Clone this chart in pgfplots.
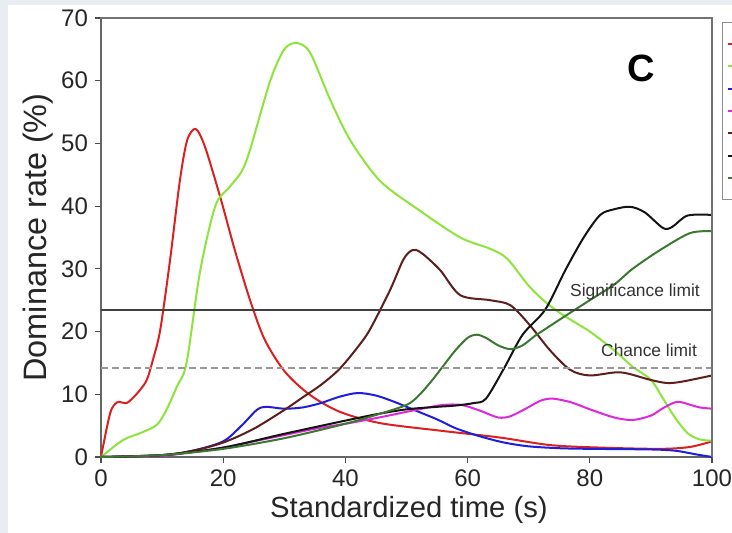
\documentclass[border=0pt]{standalone}
\usepackage{fontspec}
\setmainfont{Liberation Sans}
\usepackage{pgfplots}
\pgfplotsset{compat=1.18}

\definecolor{bggray}{RGB}{233,237,241}
\definecolor{cRed}{RGB}{220,32,32}
\definecolor{cLight}{RGB}{140,228,60}
\definecolor{cBlue}{RGB}{30,30,220}
\definecolor{cMag}{RGB}{222,40,222}
\definecolor{cMaroon}{RGB}{95,30,30}
\definecolor{cBlack}{RGB}{20,20,20}
\definecolor{cDark}{RGB}{60,120,50}

\begin{document}
\begin{tikzpicture}
% page background and white panel
\fill[bggray] (-50.5pt,-38pt) rectangle (315.5pt,228.5pt);
\fill[white] (-46.5pt,-38pt) rectangle (315.5pt,226pt);
\begin{axis}[
  at={(0pt,0pt)}, anchor=south west,
  scale only axis, width=305.5pt, height=219.5pt,
  xmin=0, xmax=100, ymin=0, ymax=70,
  xtick={0,20,...,100}, ytick={0,10,...,70},
  tick align=outside, xtick pos=bottom, ytick pos=left,
  major tick length=3pt,
  tick style={black!70, line width=0.6pt},
  axis line style={black!60, line width=0.8pt},
  /pgf/number format/assume math mode=true,
  ticklabel style={font=\fontsize{12}{14}\selectfont, text=black!85},
  xlabel={Standardized time (s)},
  ylabel={Dominance rate (\%)},
  xlabel style={at={(axis description cs:0.504,-0.121)}, anchor=center,
    font=\fontsize{14.6}{16}\selectfont, text=black!85},
  ylabel style={at={(axis description cs:-0.103,0.5)}, anchor=center,
    font=\fontsize{16.2}{18}\selectfont, text=black!85},
  clip=false,
  every axis plot/.append style={line width=1pt, smooth, no markers},
  legend style={at={(1.0164,0.991)}, anchor=north west, draw=black!45,
    line width=0.6pt, fill=white, inner xsep=2pt, inner ysep=5pt,
    font=\fontsize{8}{11}\selectfont,
    nodes={inner sep=0pt, minimum height=11.2pt}},
  legend image code/.code={\draw[#1, line width=1pt] (0pt,0pt) -- (10pt,0pt);},
]
% red
\addplot[cRed] coordinates {
(0,0) (1.5,7) (2.6,8.7) (3.4,8.7) (4.2,8.6) (5.2,9.4) (6.4,10.7) (7.5,12.3)
(8.5,15.5) (9.7,20.3) (11.3,31.4) (12.9,44) (14.1,50.5) (15.5,52.3) (17,49.5)
(19.5,41.5) (21.9,33) (24.4,25) (26.8,18.7) (30.1,13.6) (34.2,9.9) (39.1,7.2)
(45.7,5.4) (55.5,4.2) (65.3,3.1) (73.5,1.9) (81.7,1.5) (91.5,1.3) (96.4,1.6) (100,2.5)};
\addlegendentry{}
% light green
\addplot[cLight] coordinates {
(0,0) (3.6,2.7) (6.4,3.8) (9.1,5.1) (10.7,7.5) (12.4,11.2) (14,15) (16.2,29.5)
(18.7,40) (21,43) (23,45.5) (24.4,49) (27.7,60) (30,65) (32,66) (34.2,64.5)
(37.5,57) (40.8,50.5) (45.7,44) (52,39.4) (58.8,35) (63.7,33.2) (66.5,31.6)
(70,27.3) (73,24.5) (76,22.4) (80,20) (84,17) (87,14.4) (90,12.3)
(92,9.3) (94,6.2) (96,3.8) (98,2.8) (100,2.6)};
\addlegendentry{}
% blue
\addplot[cBlue] coordinates {
(0,0) (10,0.3) (15,1) (20,2.5) (23,5) (25.5,7.5) (27,8) (30,7.7) (33,7.9)
(36,8.6) (39,9.6) (42,10.2) (45,9.8) (48,8.8) (51,7.6) (55,6) (58,4.6)
(62,3.3) (66,2.3) (70,1.7) (75,1.4) (80,1.3) (90,1.2) (94,1.0) (97.5,0.4) (100,0)};
\addlegendentry{}
% magenta
\addplot[cMag] coordinates {
(0,0) (10,0.2) (15,0.8) (20,1.5) (25,2.5) (30,3.5) (35,4.5) (40,5.3) (45,6.2)
(50,7.2) (53,7.8) (56,8.3) (59,8.3) (62,7.4) (65,6.3) (67,6.5) (69.5,7.7)
(72,9) (74,9.3) (77,8.7) (80,7.6) (84,6.3) (87,5.9) (90,6.6) (92,7.8)
(94.3,8.8) (96.5,8.3) (98,7.9) (100,7.7)};
\addlegendentry{}
% maroon
\addplot[cMaroon] coordinates {
(0,0) (10,0.3) (15,1) (20,2.3) (25,4.5) (30,7.5) (33,9.5) (36,11.5) (39,14)
(42,17.5) (44,20.3) (47.3,26.6) (49.5,31.5) (51,33) (52.5,32.5) (55.5,29.8)
(58.8,25.8) (63.7,25) (67,24.2) (70.2,21) (73.5,17) (76.8,13.9) (80,13)
(85,13.5) (89.9,12.3) (92.6,11.8) (95,12) (100,13)};
\addlegendentry{}
% black
\addplot[cBlack] coordinates {
(0,0) (10,0.3) (20,1.5) (30,3.7) (40,5.8) (45,6.8) (50,7.6) (55,8) (58,8.2)
(61,8.6) (63,9.3) (66,14.2) (69,19.5) (72.7,23.5) (76,29.8) (79,35) (81.7,38.6)
(84,39.5) (86.6,39.9) (89,39) (92,36.5) (93.5,36.7) (96,38.5) (100,38.6)};
\addlegendentry{}
% dark green
\addplot[cDark] coordinates {
(0,0) (10,0.3) (20,1.3) (30,3) (40,5.3) (45,6.7) (50,8.3) (52,9.8) (54,12)
(56,14.5) (58,17) (60,19) (61.5,19.5) (63,19) (65,17.8) (67,17.2) (69,17.8)
(71,19.3) (72.4,20.2) (76,22.5) (80,25) (84,27.5) (87,30) (91.5,33) (96.4,35.7) (100,36)};
\addlegendentry{}
% limits
\addplot[black!75, line width=0.9pt, sharp plot, forget plot] coordinates {(0,23.5) (100,23.5)};
\addplot[black!40, line width=1.3pt, sharp plot, dash pattern=on 3.5pt off 2pt, forget plot] coordinates {(0,14.2) (100,14.2)};
\node[font=\fontsize{8.7}{10}\selectfont, text=black!80] at (axis cs:87.4,26.3) {Significance limit};
\node[font=\fontsize{8.7}{10}\selectfont, text=black!80] at (axis cs:89.7,17) {Chance limit};
\node[font=\fontsize{19}{22}\selectfont\bfseries] at (axis cs:88.4,62) {C};
% top and right frame
\draw[black!55, line width=0.8pt] (axis cs:0,70) -- (axis cs:100,70) -- (axis cs:100,0);
\end{axis}
\pgfresetboundingbox
\path[use as bounding box] (-50.5pt,-38pt) rectangle (315.5pt,228.5pt);
\end{tikzpicture}
\end{document}
